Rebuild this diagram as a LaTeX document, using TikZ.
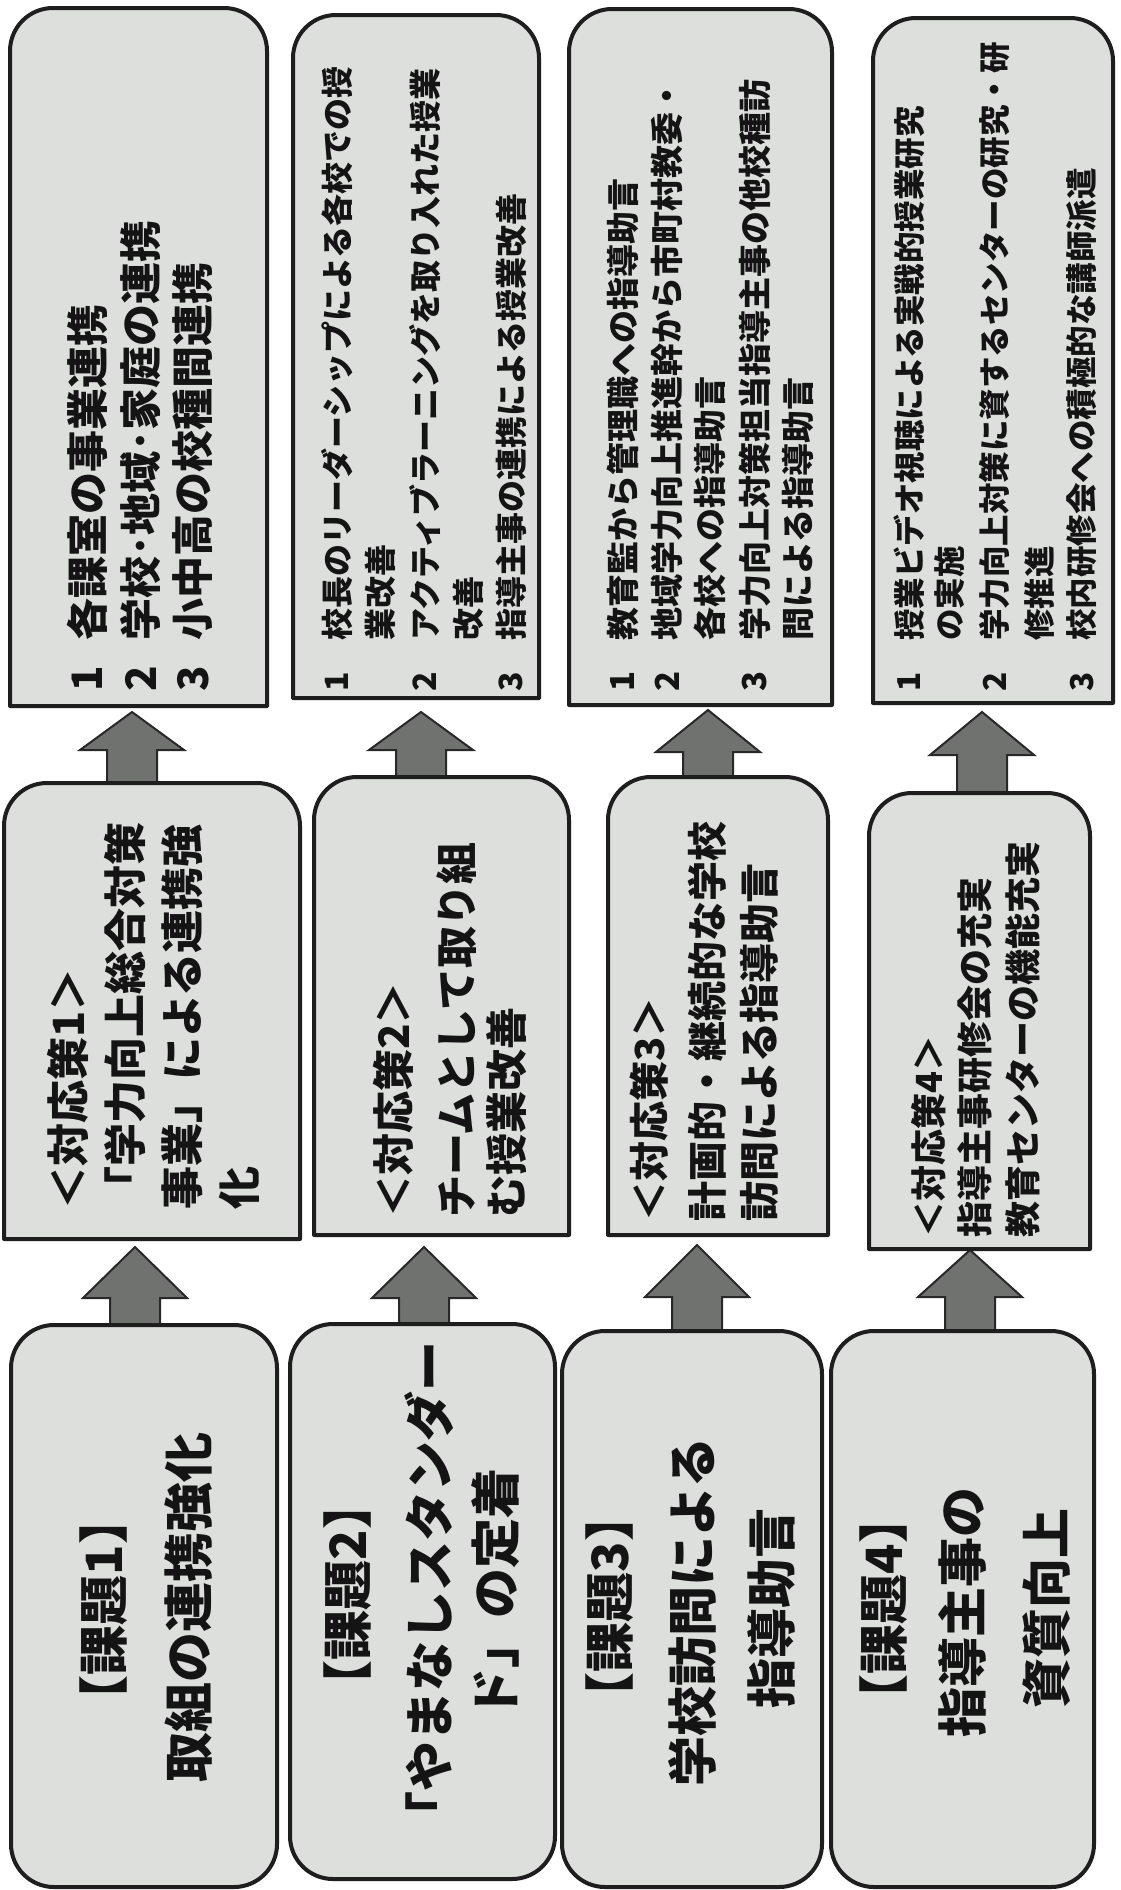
\documentclass[tikz,border=0pt]{standalone}
\usepackage{fontspec}
\setmainfont{Noto Sans CJK JP}
\definecolor{boxfill}{RGB}{221,223,221}
\definecolor{boxline}{RGB}{30,30,30}
\definecolor{arrfill}{RGB}{112,114,112}
\definecolor{arrline}{RGB}{40,40,40}
\definecolor{ink}{RGB}{20,20,20}
\newcommand{\FSz}[1]{\fontsize{#1}{#1}\selectfont}
\newcommand{\TopRoundBox}[4]{%
  \filldraw[boxstyle] (#1,#4) -- (#1,{#2+43}) arc[start angle=180,end angle=270,radius=43]
    -- ({#3-43},#2) arc[start angle=270,end angle=360,radius=43] -- (#3,#4) -- cycle;}
\newcommand{\BlkArrow}[4]{% cx, tip y, head base y, bottom y
  \filldraw[arrowstyle] ({#1-25},#4) -- ({#1-25},#3) -- ({#1-52},#3) -- (#1,#2)
    -- ({#1+52},#3) -- ({#1+25},#3) -- ({#1+25},#4) -- cycle;}
\tikzset{
  boxstyle/.style={fill=boxfill, draw=boxline, line width=4pt, line join=round},
  arrowstyle/.style={fill=arrfill, draw=arrline, line width=2pt, line join=miter},
  lbl/.style={rotate=90, inner sep=0pt, text=ink},
  lft/.style={lbl, anchor=west},
  ctr/.style={lbl, anchor=center},
}
\begin{document}
\begin{tikzpicture}[x=1pt,y=-1pt]
\fill[white] (0,0) rectangle (1121,1890);
\useasboundingbox (0,0) rectangle (1121,1890);

% ---- arrows ----
\BlkArrow{132}{712}{750}{786}
\BlkArrow{421}{712}{750}{780}
\BlkArrow{708}{710}{752}{780}
\BlkArrow{982}{712}{755}{796}
\BlkArrow{135}{1247}{1298}{1328}
\BlkArrow{424}{1247}{1298}{1328}
\BlkArrow{697}{1245}{1297}{1334}
\BlkArrow{970}{1250}{1297}{1334}

% ---- result boxes ----
\TopRoundBox{10}{8}{267}{706}
\TopRoundBox{293}{15}{539}{698}
\TopRoundBox{569}{9}{832}{705}
\TopRoundBox{873}{18}{1113}{703}
% ---- measure boxes ----
\TopRoundBox{4}{783}{300}{1239}
\TopRoundBox{314}{777}{569}{1235}
\TopRoundBox{608}{777}{828}{1235}
\TopRoundBox{869}{793}{1090}{1249}
% ---- issue boxes ----
\filldraw[boxstyle, rounded corners=43pt] (11,1325) rectangle (277,1887);
\filldraw[boxstyle, rounded corners=43pt] (290,1324) rectangle (555,1879);
\filldraw[boxstyle, rounded corners=43pt] (562,1331) rectangle (822,1887);
\filldraw[boxstyle, rounded corners=43pt] (831,1331) rectangle (1094,1887);

% ---- result texts ----
\begin{scope}[every node/.append style={font=\bfseries\FSz{42}}]
\node[lft] (r1n1) at (87,692) {1};
\node[lft] (r1t1) at (87,641) {各課室の事業連携};
\node[lft] (r1n2) at (141,692) {2};
\node[lft] (r1t2) at (141,641) {学校･地域･家庭の連携};
\node[lft] (r1n3) at (193,692) {3};
\node[lft] (r1t3) at (193,641) {小中高の校種間連携};
\end{scope}
\begin{scope}[every node/.append style={font=\bfseries\FSz{32}}]
\node[lft] (r2n1) at (337,692) {1};
\node[lft] (r2t1) at (337,641) {校長のリーダーシップによる各校での授};
\node[lft] (r2t1b) at (380,641) {業改善};
\node[lft] (r2n2) at (425,692) {2};
\node[lft] (r2t2) at (425,641) {アクティブラーニングを取り入れた授業};
\node[lft] (r2t2b) at (468,641) {改善};
\node[lft] (r2n3) at (511,692) {3};
\node[lft] (r2t3) at (511,641) {指導主事の連携による授業改善};
\end{scope}
\begin{scope}[every node/.append style={font=\bfseries\FSz{33}}]
\node[lft] (r3n1) at (623,692) {1};
\node[lft] (r3t1) at (623,641) {教育監から管理職への指導助言};
\node[lft] (r3n2) at (667,692) {2};
\node[lft] (r3t2) at (667,641) {地域学力向上推進幹から市町村教委・};
\node[lft] (r3t2b) at (710,641) {各校への指導助言};
\node[lft] (r3n3) at (755,692) {3};
\node[lft] (r3t3) at (755,641) {学力向上対策担当指導主事の他校種訪};
\node[lft] (r3t3b) at (798,641) {問による指導助言};
\end{scope}
\begin{scope}[every node/.append style={font=\bfseries\FSz{31.5}}]
\node[lft] (r4n1) at (909,692) {1};
\node[lft] (r4t1) at (909,641) {授業ビデオ視聴による実戦的授業研究};
\node[lft] (r4t1b) at (950,641) {の実施};
\node[lft] (r4n2) at (995,692) {2};
\node[lft] (r4t2) at (995,641) {学力向上対策に資するセンターの研究・研};
\node[lft] (r4t2b) at (1039,641) {修推進};
\node[lft] (r4n3) at (1082,692) {3};
\node[lft] (r4t3) at (1082,641) {校内研修会への積極的な講師派遣};
\end{scope}

% ---- measure texts ----
\begin{scope}[every node/.append style={font=\bfseries\FSz{43}}]
\node[lft] (m1a) at (68,1210) {＜対応策1＞};
\node[lft] (m1b) at (125,1210) {「学力向上総合対策};
\node[lft] (m1c) at (182,1210) {事業」による連携強};
\node[lft] (m1d) at (239,1210) {化};
\end{scope}
\begin{scope}[every node/.append style={font=\bfseries\FSz{42}}]
\node[lft] (m2a) at (393,1218) {＜対応策2＞};
\node[lft] (m2b) at (457,1218) {チームとして取り組};
\node[lft] (m2c) at (507,1218) {む授業改善};
\end{scope}
\begin{scope}[every node/.append style={font=\bfseries\FSz{40}}]
\node[lft] (m3a) at (649,1222) {＜対応策3＞};
\node[lft] (m3b) at (707,1222) {計画的・継続的な学校};
\node[lft] (m3c) at (759,1222) {訪問による指導助言};
\end{scope}
\begin{scope}[every node/.append style={font=\bfseries\FSz{36}}]
\node[lft] (m4a) at (929,1238) {＜対応策4＞};
\node[lft] (m4b) at (975,1238) {指導主事研修会の充実};
\node[lft] (m4c) at (1023,1238) {教育センターの機能充実};
\end{scope}

% ---- issue texts ----
\begin{scope}[every node/.append style={font=\bfseries\FSz{50}}]
\node[ctr] (k1a) at (104,1610) {【課題1】};
\node[ctr] (k1b) at (189,1607) {取組の連携強化};
\node[ctr] (k2a) at (348,1595) {【課題2】};
\node[ctr] (k2b) at (429,1591) {「やまなしスタンダー};
\node[ctr] (k2c) at (496,1593) {ド」の定着};
\node[ctr] (k3a) at (610,1607) {【課題3】};
\node[ctr] (k3b) at (692,1612) {学校訪問による};
\node[ctr] (k3c) at (771,1608) {指導助言};
\node[ctr] (k4a) at (884,1609) {【課題4】};
\node[ctr] (k4b) at (962,1612) {指導主事の};
\node[ctr] (k4c) at (1047,1608) {資質向上};
\end{scope}
\end{tikzpicture}
\end{document}
